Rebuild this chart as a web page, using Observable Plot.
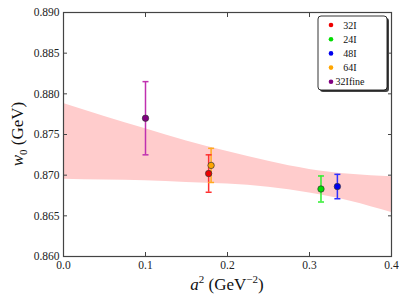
<!DOCTYPE html>
<html><head><meta charset="utf-8">
<script src="https://cdn.jsdelivr.net/npm/d3@7"></script>
<script src="https://cdn.jsdelivr.net/npm/@observablehq/plot@0.6"></script>
<style>body{margin:0;background:#fff} #chart{width:399px;height:299px}</style>
</head><body><div id="chart"></div>
<script>
const ensembles = ["32I", "24I", "48I", "64I", "32Ifine"];
const a2 = [0.177, 0.314, 0.334, 0.180, 0.100];
const w0 = [0.8702, 0.8683, 0.8686, 0.8712, 0.8770];
const w0err = [0.0023, 0.0016, 0.0015, 0.0021, 0.0045];
const colors = ["#ee0000", "#00dd00", "#0000ee", "#ffa500", "#800080"];
const barColors = ["#ff3030", "#30ee30", "#3030ff", "#ffaa20", "#c030b0"];

const bandA2 = [0, 0.05, 0.1, 0.15, 0.2, 0.25, 0.3, 0.35, 0.4];
const bandHi = [0.8788, 0.8772, 0.8757, 0.8742, 0.8729, 0.8717, 0.8707, 0.8701, 0.8698];
const bandLo = [0.8695, 0.8694, 0.8693, 0.8691, 0.8689, 0.8685, 0.8678, 0.8668, 0.8654];

const xTicks = [0, 0.1, 0.2, 0.3, 0.4];
const yTicks = [0.860, 0.865, 0.870, 0.875, 0.880, 0.885, 0.890];

const hcap = {draw(ctx, size) { const w = Math.sqrt(size / Math.PI); ctx.moveTo(-w, 0); ctx.lineTo(w, 0); }};
const pts = ensembles.map((e, i) => ({e, x: a2[i], y: w0[i], lo: w0[i] - w0err[i], hi: w0[i] + w0err[i], c: colors[i], bc: barColors[i]}));
const band = bandA2.map((x, i) => ({x, lo: bandLo[i], hi: bandHi[i]}));

const axStroke = "#444";
const plot = Plot.plot({
  width: 399, height: 299,
  marginLeft: 63, marginRight: 8, marginTop: 12, marginBottom: 43,
  style: {fontFamily: "Liberation Serif", fontSize: "11.5px", background: "white", color: "#222"},
  x: {domain: [0, 0.4]},
  y: {domain: [0.860, 0.890]},
  color: {type: "identity"},
  marks: [
    Plot.areaY(band, {x: "x", y1: "lo", y2: "hi", fill: "#ffcccc", curve: "natural"}),
    Plot.ruleX(pts, {x: "x", y1: "lo", y2: "hi", stroke: "bc", strokeWidth: 1.5}),
    Plot.dot(pts, {x: "x", y: "lo", symbol: hcap, r: 3, stroke: "bc", strokeWidth: 1.5}),
    Plot.dot(pts, {x: "x", y: "hi", symbol: hcap, r: 3, stroke: "bc", strokeWidth: 1.5}),
    Plot.dot(pts, {x: "x", y: "y", r: 3.2, fill: "c", stroke: "#333", strokeWidth: 0.7}),
    Plot.frame({stroke: axStroke, strokeWidth: 1.2}),
    Plot.axisX({ticks: xTicks, tickSize: -4, text: null, stroke: axStroke, label: null}),
    Plot.axisX({anchor: "top", ticks: xTicks, tickSize: -4, text: null, stroke: axStroke, label: null}),
    Plot.axisX({ticks: xTicks, tickSize: 0, tickPadding: 4, tickFormat: d3.format(".1f"), label: null}),
    Plot.axisY({ticks: yTicks, tickSize: -4, text: null, stroke: axStroke, label: null}),
    Plot.axisY({anchor: "right", ticks: yTicks, tickSize: -4, text: null, stroke: axStroke, label: null}),
    Plot.axisY({ticks: yTicks, tickSize: 0, tickPadding: 4, tickFormat: d3.format(".3f"), label: null})
  ]
});
document.getElementById("chart").appendChild(plot);

const svg = d3.select(plot);
// axis labels
const xl = svg.append("text").attr("x", 227).attr("y", 290).attr("text-anchor", "middle")
  .style("font-family", "Liberation Serif").style("font-size", "17px").attr("fill", "#111");
xl.append("tspan").style("font-style", "italic").text("a");
xl.append("tspan").attr("dy", -7).style("font-size", "11px").text("2");
xl.append("tspan").attr("dy", 7).text(" (GeV");
xl.append("tspan").attr("dy", -7).style("font-size", "11px").text("−2");
xl.append("tspan").attr("dy", 7).text(")");

const yl = svg.append("text").attr("transform", "translate(23,134) rotate(-90)").attr("text-anchor", "middle")
  .style("font-family", "Liberation Serif").style("font-size", "17px").attr("fill", "#111");
yl.append("tspan").style("font-style", "italic").text("w");
yl.append("tspan").attr("dy", 3.5).style("font-size", "11px").text("0");
yl.append("tspan").attr("dy", -3.5).text(" (GeV)");

// legend
const lg = svg.append("g");
lg.append("rect").attr("x", 320).attr("y", 18).attr("width", 69).attr("height", 74).attr("rx", 3).attr("fill", "#444");
lg.append("rect").attr("x", 318).attr("y", 16).attr("width", 69).attr("height", 74).attr("rx", 3).attr("fill", "#fff").attr("stroke", "#000").attr("stroke-width", 0.8);
ensembles.forEach((e, i) => {
  const yy = 25 + i * 14.2;
  lg.append("circle").attr("cx", 331).attr("cy", yy).attr("r", 2.3).attr("fill", colors[i]);
  lg.append("text").attr("x", 350).attr("y", yy + 3.5).style("font-family", "Liberation Serif").style("font-size", "10px").attr("fill", "#111").text(e);
});
</script>
</body></html>
